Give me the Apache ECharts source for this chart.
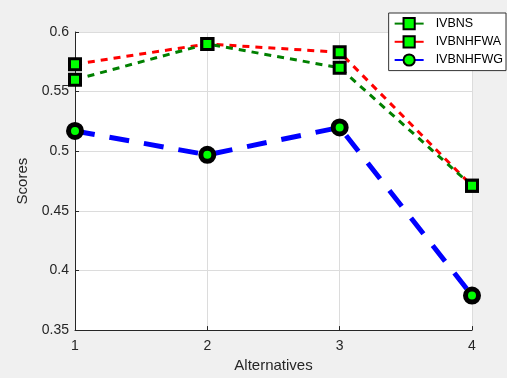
<!DOCTYPE html>
<html><head><meta charset="utf-8">
<script src="https://cdn.jsdelivr.net/npm/echarts@6/dist/echarts.min.js"></script>
<style>html,body{margin:0;padding:0;background:#f0f0f0}#c{width:507px;height:378px}</style>
</head><body><div id="c"></div>
<script>
const categories = ['1','2','3','4'];
const ivbns = [0.560, 0.590, 0.570, 0.471];
const ivbnhfwa = [0.573, 0.590, 0.583, 0.471];
const ivbnhfwg = [0.517, 0.497, 0.520, 0.379];
const yTicks = {min: 0.35, max: 0.6, interval: 0.05};

const font = 'Liberation Sans, Arial, sans-serif';
const chart = echarts.init(document.getElementById('c'));
const sq = () => ({symbol: 'rect', symbolSize: 11, itemStyle: {color: '#00ff00', borderColor: '#000', borderWidth: 3}});
chart.setOption({
  backgroundColor: '#f0f0f0',
  animation: false,
  textStyle: {fontFamily: font},
  grid: {left: 75, right: 35, top: 32, bottom: 46, show: true, backgroundColor: '#fff', borderWidth: 0},
  legend: {
    right: 1, top: 13, orient: 'vertical', backgroundColor: '#fff', borderColor: '#333', borderWidth: 1,
    borderRadius: 0, padding: [4, 3, 4, 5], itemGap: 5, itemWidth: 29, itemHeight: 14,
    lineStyle: {type: 'solid'},
    textStyle: {fontFamily: font, fontSize: 12.5, color: '#000', padding: [0, 0, 0, 7]},
    data: ['IVBNS', 'IVBNHFWA', 'IVBNHFWG']
  },
  xAxis: {
    type: 'category', data: categories, boundaryGap: false,
    name: 'Alternatives', nameLocation: 'middle', nameGap: 26,
    nameTextStyle: {fontSize: 15, color: '#262626', fontFamily: font},
    axisLine: {lineStyle: {color: '#262626', width: 1}},
    axisTick: {inside: true, length: 4, lineStyle: {color: '#262626'}},
    axisLabel: {fontSize: 14, color: '#262626', margin: 9, fontFamily: font},
    splitLine: {show: true, lineStyle: {color: '#dcdcdc', width: 1}}
  },
  yAxis: {
    type: 'value', min: yTicks.min, max: yTicks.max, interval: yTicks.interval,
    name: 'Scores', nameLocation: 'middle', nameGap: 39,
    nameTextStyle: {fontSize: 15, color: '#262626', fontFamily: font},
    axisLine: {show: true, lineStyle: {color: '#262626', width: 1}},
    axisTick: {show: true, inside: true, length: 4, lineStyle: {color: '#262626'}},
    axisLabel: {fontSize: 14, color: '#262626', margin: 6, fontFamily: font,
      formatter: v => String(parseFloat(v.toFixed(2)))},
    splitLine: {show: true, lineStyle: {color: '#dcdcdc', width: 1}}
  },
  series: [
    Object.assign({name: 'IVBNS', type: 'line', data: ivbns, z: 3,
      lineStyle: {color: '#008000', width: 3, type: [7, 6]}}, sq()),
    Object.assign({name: 'IVBNHFWA', type: 'line', data: ivbnhfwa, z: 2,
      lineStyle: {color: '#ff0000', width: 3, type: [7, 6]}}, sq()),
    {name: 'IVBNHFWG', type: 'line', data: ivbnhfwg, z: 4,
      symbol: 'circle', symbolSize: 13,
      itemStyle: {color: '#00ff00', borderColor: '#000', borderWidth: 5},
      lineStyle: {color: '#0000ff', width: 5, type: [20, 15]}}
  ]
});
</script></body></html>
